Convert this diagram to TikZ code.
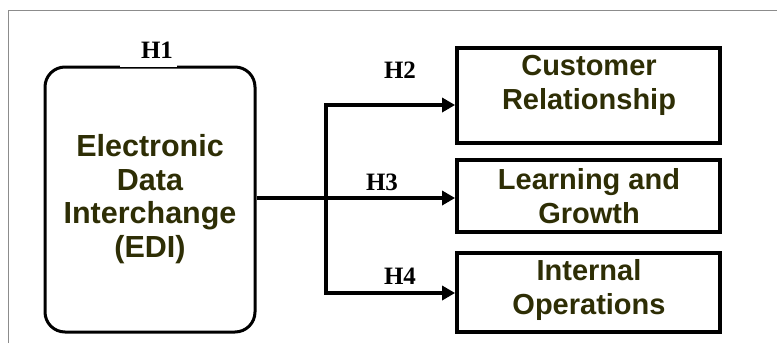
\documentclass[tikz,border=0pt]{standalone}
\usepackage{fontspec}
\setmainfont{Liberation Sans}
\newfontfamily\hfont{Liberation Serif}
\usetikzlibrary{arrows.meta}
\definecolor{olivetext}{RGB}{46,46,5}
\definecolor{framegray}{RGB}{140,140,140}
\tikzset{
  edibox/.style={draw=black, line width=3pt, rounded corners=20pt, minimum width=210pt, minimum height=265pt},
  outbox/.style={draw=black, line width=3.8pt, minimum width=263pt},
  boxtext/.style={text=olivetext, font=\bfseries\fontsize{29}{34}\selectfont, align=center, inner sep=0pt},
  editext/.style={text=olivetext, font=\bfseries\fontsize{30.5}{33.5}\selectfont, align=center, inner sep=0pt},
  hlabel/.style={font=\hfont\bfseries\fontsize{25}{28}\selectfont, text=black, inner sep=0pt},
  arr/.style={line width=3.5pt, {Triangle[length=13pt,width=14pt]}-{Triangle[length=13pt,width=14pt]}},
  arrone/.style={line width=3.5pt, -{Triangle[length=13pt,width=14pt]}}
}
\begin{document}
\begin{tikzpicture}[x=1pt,y=-1pt]
\useasboundingbox (0,0) rectangle (781,343);
\fill[white] (0,0) rectangle (781,343);
% frame
\draw[framegray, line width=1pt] (8,343) -- (8,10) -- (777,10);
% boxes
\node[edibox] (edi) at (150,199.5) {};
\fill[white] (120,64) rectangle (177,67.2);
\node[outbox, minimum height=95pt] (cr) at (588.5,95.5) {};
\node[outbox, minimum height=72pt] (lg) at (588.5,196) {};
\node[outbox, minimum height=79pt] (io) at (588.5,292.5) {};
% texts
\node[editext] (edit) at (150,199) {Electronic\\Data\\Interchange\\(EDI)};
\node[boxtext] (crt) at (589,85) {Customer\\Relationship};
\node[boxtext] (lgt) at (589,196) {Learning and\\Growth};
\node[boxtext] (iot) at (589,290) {Internal\\Operations};
% labels
\node[hlabel] (h1) at (157,50) {H1};
\node[hlabel] (h2) at (400,70) {H2};
\node[hlabel] (h3) at (382,182) {H3};
\node[hlabel] (h4) at (400,276) {H4};
% connectors
\coordinate (j) at (326,198);
\coordinate (t) at (326,105);
\coordinate (b) at (326,293);
\draw[arrone] (edi.east |- j) -- (lg.west |- j);
\draw[arr] (cr.west |- t) -- (t) -- (b) -- (io.west |- b);
\end{tikzpicture}
\end{document}
